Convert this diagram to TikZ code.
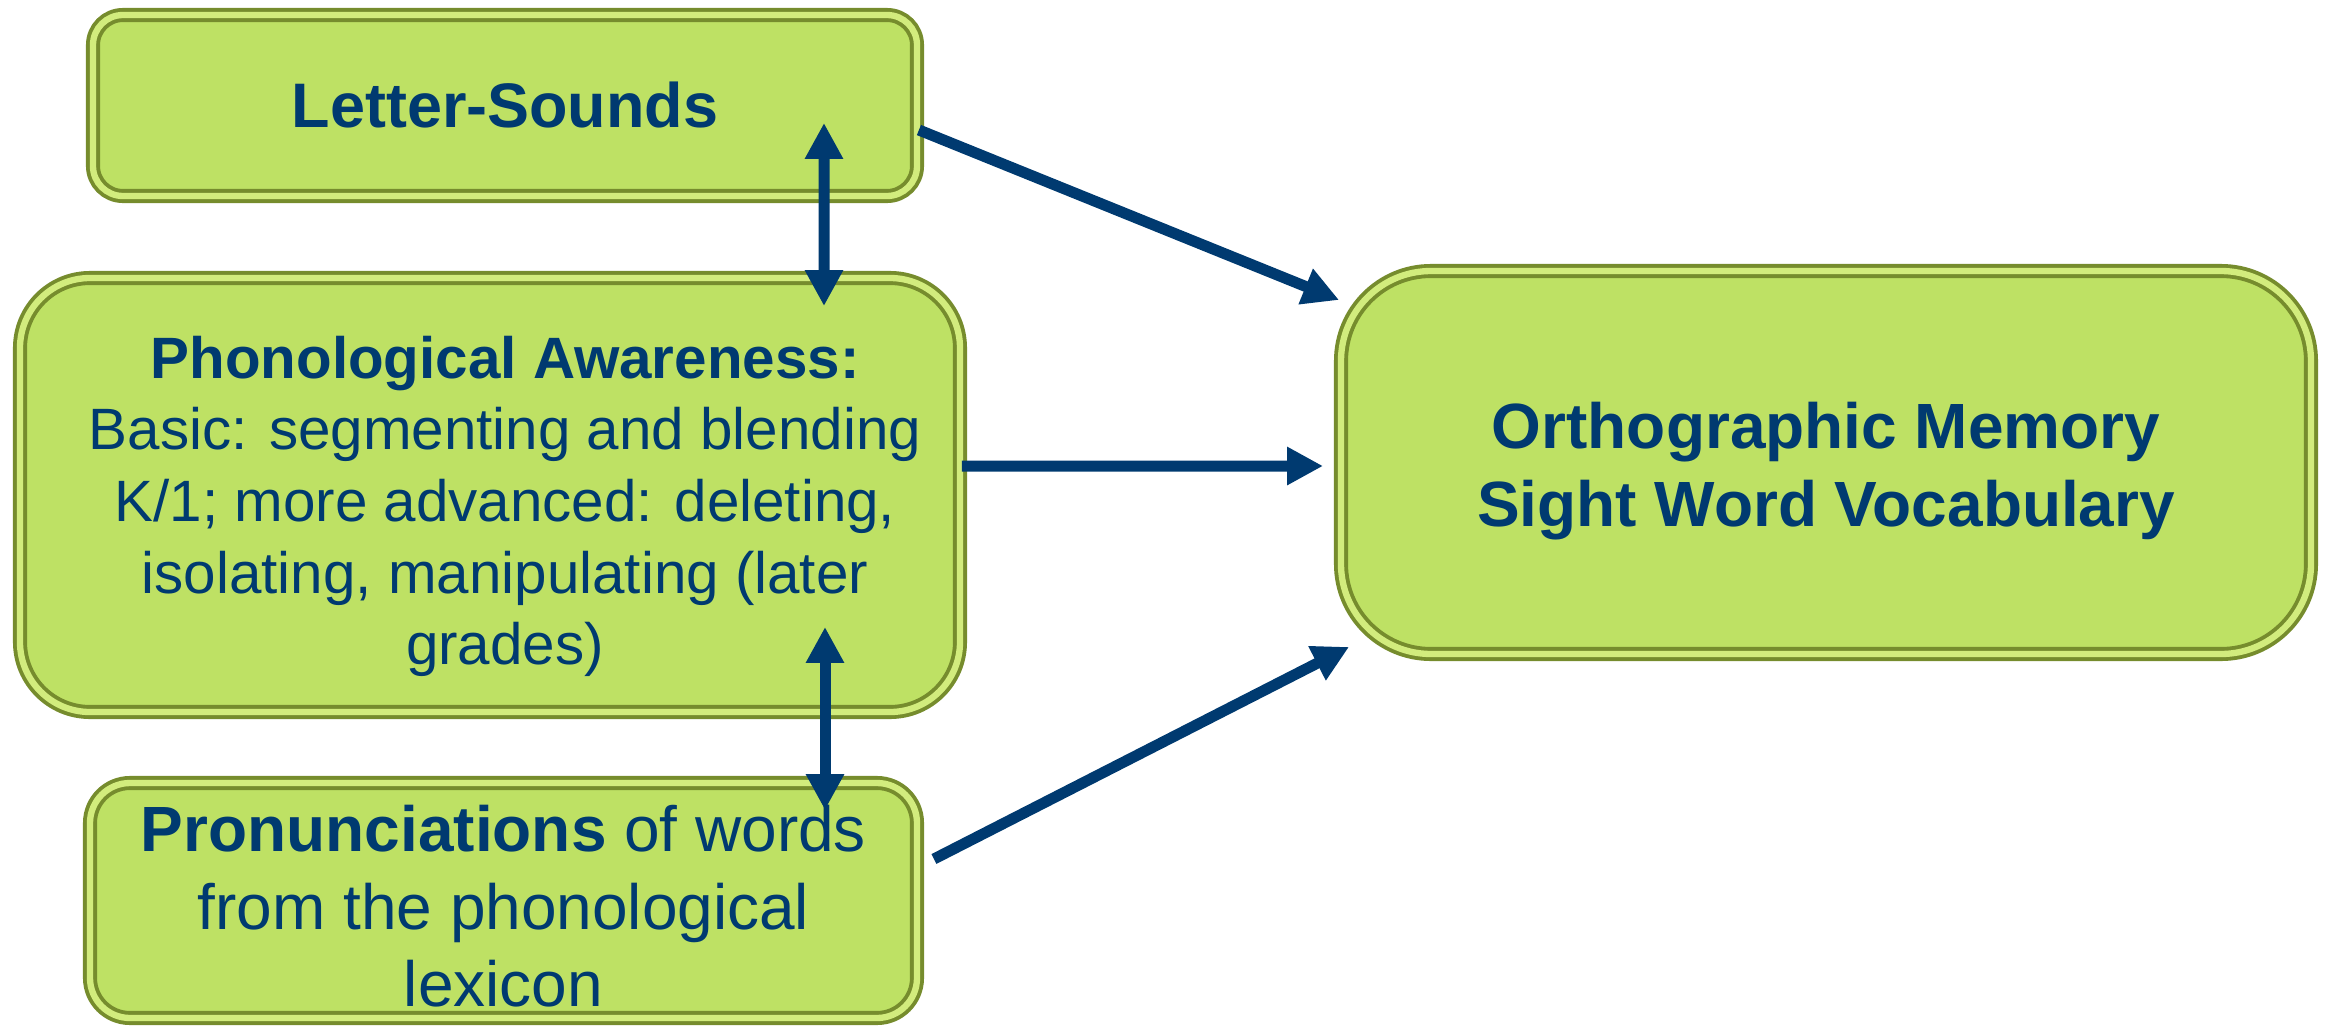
\documentclass[tikz,border=0pt]{standalone}
\usepackage{fontspec}
\setmainfont{Liberation Sans}
\usepackage{tikz}
\usetikzlibrary{arrows.meta,calc}

\definecolor{boxfill}{RGB}{190,225,100}
\definecolor{boxedge}{RGB}{118,140,45}
\definecolor{boxlight}{RGB}{210,236,125}
\definecolor{navy}{RGB}{0,58,112}

\begin{document}
\begin{tikzpicture}[
  card/.style={draw=boxedge,line width=1.1pt,double=boxlight,double distance=1.8pt,
    fill=boxfill,text=navy,align=center,inner sep=0pt},
  link/.style={navy,line width=0.11cm},
  tip/.style={-{Triangle[length=0.36cm,width=0.36cm]}},
  tips/.style={{Triangle[length=0.36cm,width=0.36cm]}-{Triangle[length=0.36cm,width=0.36cm]}}]
\useasboundingbox (0,0) rectangle (23.31,10.32);

\node [card,minimum width=8.24cm,minimum height=1.81cm,rounded corners=0.3cm,
  font=\fontsize{17.9}{21.9}\selectfont\bfseries] (ls) at (5.05,9.265) {Letter-Sounds};
\node [card,minimum width=9.40cm,minimum height=4.34cm,rounded corners=0.7cm,
  font=\fontsize{16.6}{20.4}\selectfont] (pa) at (4.90,5.37)
  {\rule{0pt}{0.65cm}\hspace{0.3cm}\textbf{Phonological Awareness:}\\
   \hspace{0.3cm}Basic: segmenting and blending\\
   \hspace{0.3cm}K/1; more advanced: deleting,\\
   \hspace{0.3cm}isolating, manipulating (later\\
   \hspace{0.3cm}grades)};
\node [card,minimum width=8.27cm,minimum height=2.35cm,rounded corners=0.4cm,
  font=\fontsize{18.2}{22.1}\selectfont] (pr) at (5.035,1.315)
  {\rule{0pt}{0.58cm}\textbf{Pronunciations} of words\\ from the phonological\\ lexicon};
\node [card,minimum width=9.70cm,minimum height=3.83cm,rounded corners=0.9cm,
  font=\fontsize{18.2}{22.1}\selectfont\bfseries] (om) at (18.26,5.695)
  {\rule{0pt}{0.64cm}Orthographic Memory\\ Sight Word Vocabulary};

\draw [link,tips] ($(ls.south)+(3.19,0.75)$) -- ($(pa.north)+(3.34,-0.30)$);
\draw [link,tips] ($(pa.south)+(3.35,0.87)$) -- ($(pr.north)+(3.215,-0.29)$);

\draw [link,tip] ($(ls.east)+(0,-0.245)$) -- ($(om.west)+(0,1.625)$);
\draw [link,tip] ($(pa.east)+(0,0.29)$) -- ($(om.west)+(-0.16,-0.035)$);
\draw [link,tip] ($(pr.east)+(0.15,0.415)$) -- ($(om.south west)+(0.10,0.09)$);

\end{tikzpicture}
\end{document}
